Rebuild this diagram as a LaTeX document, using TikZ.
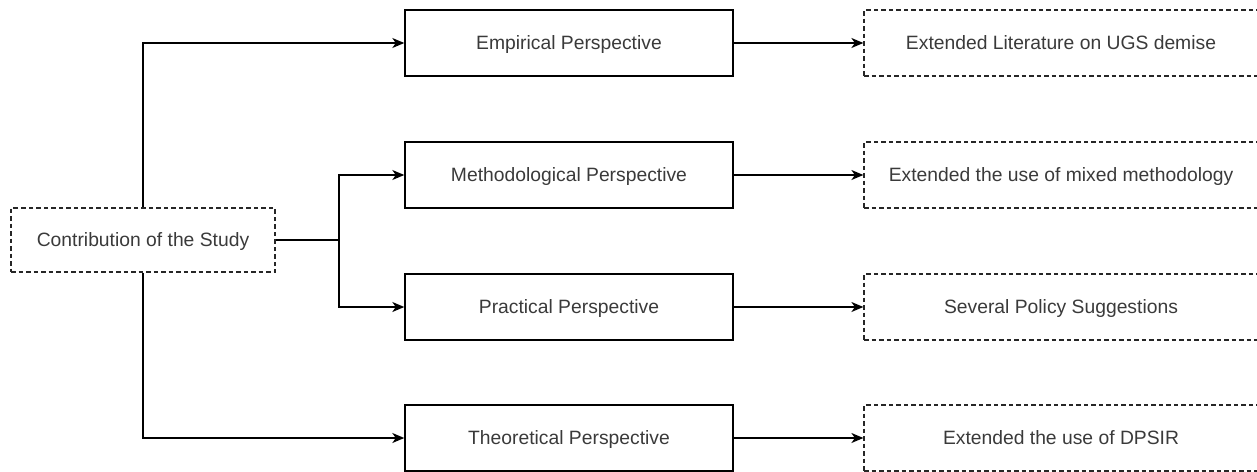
\documentclass[tikz,border=0pt]{standalone}
\usepackage{fontspec}
\setmainfont{Liberation Sans}
\usetikzlibrary{arrows.meta}
\definecolor{labelgray}{HTML}{3a3a3a}
\begin{document}
\begin{tikzpicture}[x=1pt, y=-1pt,
  every node/.style={font=\fontsize{19.3}{23}\selectfont, text=labelgray, inner sep=0pt, align=center,
    text height=14pt, text depth=2pt},
  solidbox/.style={draw=black, line width=1.4pt, minimum width=328pt, minimum height=66pt},
  dashbox/.style={draw=black!85, line width=1.2pt, dash pattern=on 4.5pt off 3pt},
  rootbox/.style={dashbox, minimum width=264pt, minimum height=64pt},
  leafbox/.style={dashbox, minimum width=394pt, minimum height=66pt},
  conn/.style={draw=black, line width=1.4pt, -{Stealth[length=12pt, width=10pt, inset=3.5pt]}},
  plain/.style={draw=black, line width=1.4pt}]
  \useasboundingbox (0,0) rectangle (1257,471);

  % root node
  \node[rootbox] (contrib) at (143,240) {Contribution of the Study};

  % perspectives
  \node[solidbox] (emp)  at (569,43)  {Empirical Perspective};
  \node[solidbox] (meth) at (569,175) {Methodological Perspective};
  \node[solidbox] (prac) at (569,307) {Practical Perspective};
  \node[solidbox] (theo) at (569,438) {Theoretical Perspective};

  % outcomes
  \node[leafbox] (lit)    at (1061,43)  {Extended Literature on UGS demise};
  \node[leafbox] (mixed)  at (1061,175) {Extended the use of mixed methodology};
  \node[leafbox] (policy) at (1061,307) {Several Policy Suggestions};
  \node[leafbox] (dpsir)  at (1061,438) {Extended the use of DPSIR};

  % branches from the root
  \draw[conn] (contrib.north) |- (emp.west);
  \draw[conn] (contrib.south) |- (theo.west);
  \coordinate (fork) at (339,240);
  \draw[plain] (contrib.east) -- (fork);
  \draw[conn] (fork) |- (meth.west);
  \draw[conn] (fork) |- (prac.west);

  % perspective to outcome
  \draw[conn] (emp.east)  -- (lit.west);
  \draw[conn] (meth.east) -- (mixed.west);
  \draw[conn] (prac.east) -- (policy.west);
  \draw[conn] (theo.east) -- (dpsir.west);
\end{tikzpicture}
\end{document}
